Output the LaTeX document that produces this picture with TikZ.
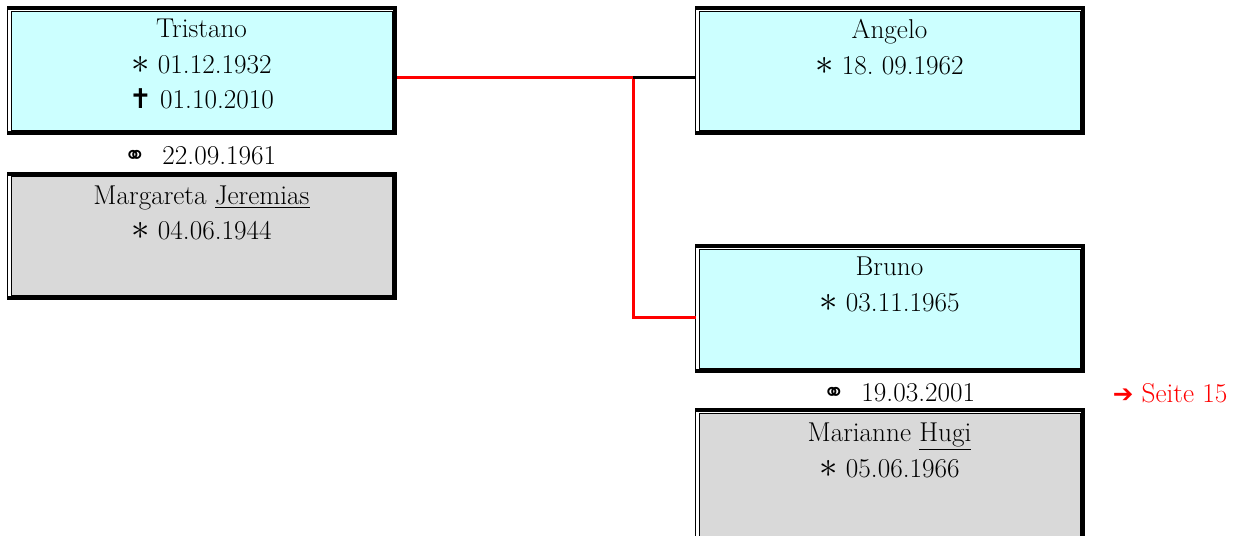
\documentclass[tikz,border=0pt]{standalone}
\usepackage{fontspec}
\newfontfamily\symbfont{DejaVu Sans}
\usetikzlibrary{positioning}

\definecolor{childbg}{RGB}{204,255,255}
\definecolor{spousebg}{RGB}{217,217,217}

% birth, death and marriage signs
\newcommand{\born}{\smash{\scalebox{1.45}{$\ast$}}}
\newcommand{\died}{{\symbfont\bfseries ✝}}
\newcommand{\wed}{{\symbfont\fontsize{15}{15}\selectfont ⚭}}

% heavy outer frame round a person box
\newcommand{\famframe}[1]{%
  \draw[line width=0.55pt] ([shift={(-0.06cm,0.085cm)}]#1.north west) -- ([shift={(-0.06cm,-0.085cm)}]#1.south west);
  \draw[line width=2.2pt] ([shift={(-0.06cm,0.045cm)}]#1.north west) -- ([shift={(0.045cm,0.045cm)}]#1.north east)
    -- ([shift={(0.045cm,-0.045cm)}]#1.south east) -- ([shift={(-0.06cm,-0.045cm)}]#1.south west);
}

\begin{document}
\begin{tikzpicture}[
      x=0.02cm,y=-0.02cm,
      every node/.style={font=\fontsize{15.5}{20.2}\selectfont},
      person/.style={
        draw,rectangle,line width=0.5pt,fill=#1,
        minimum width=7.62cm,minimum height=2.38cm,inner sep=0pt
      },
      persontext/.style={align=center,inner sep=0pt,anchor=north},
      redline/.style={draw=red,line width=1.7pt},
      blackline/.style={draw=black,line width=1.7pt},
    ]
    \useasboundingbox (0,0) rectangle (1236,535);
    \clip (0,0) rectangle (1236,535);

    % parents
    \node[person=childbg] (tristano) at (201.5,70.5) {};
    \node[person=spousebg] (margareta) at (201.5,236) {};
    % children
    \node[person=childbg] (angelo) at (889.5,70.5) {};
    \node[person=childbg] (bruno) at (889.5,308.5) {};
    \node[person=spousebg,minimum height=2.8cm] (marianne) at (889.5,483) {};

    \famframe{tristano}
    \famframe{margareta}
    \famframe{angelo}
    \famframe{bruno}
    \famframe{marianne}

    \node[persontext,below=0.17cm of tristano.north] (tristanotxt)
      {Tristano\\\born\ 01.12.1932\\\died\ 01.10.2010};
    \node[persontext,below=0.18cm of margareta.north] (margaretatxt)
      {Margareta \underline{Jeremias}\\\born\ 04.06.1944};
    \node[persontext,below=0.17cm of angelo.north] (angelotxt)
      {Angelo\\\born\ 18.\ 09.1962};
    \node[persontext,below=0.16cm of bruno.north] (brunotxt)
      {Bruno\\\born\ 03.11.1965};
    \node[persontext,below=0.2cm of marianne.north] (mariannetxt)
      {Marianne \underline{Hugi}\\\born\ 05.06.1966};

    \node (wed1) at (200,156) {\wed\ \ 22.09.1961};
    \node (wed2) at (899,393) {\wed\ \ 19.03.2001};
    \node[text=red] (seite) at (1170,393) {{\symbfont\bfseries\fontsize{14}{14}\selectfont ➔} Seite 15};

    % line of descent
    \coordinate (fork) at (633,77);
    \coordinate (forkend) at (633,317);
    \draw[redline] ([xshift=0.1cm]tristano.east |- fork) -- (fork) -- (forkend)
      -- ([xshift=-0.06cm]bruno.west |- forkend);
    \draw[blackline] (fork) -- ([xshift=-0.06cm]angelo.west |- fork);
  \end{tikzpicture}
\end{document}
